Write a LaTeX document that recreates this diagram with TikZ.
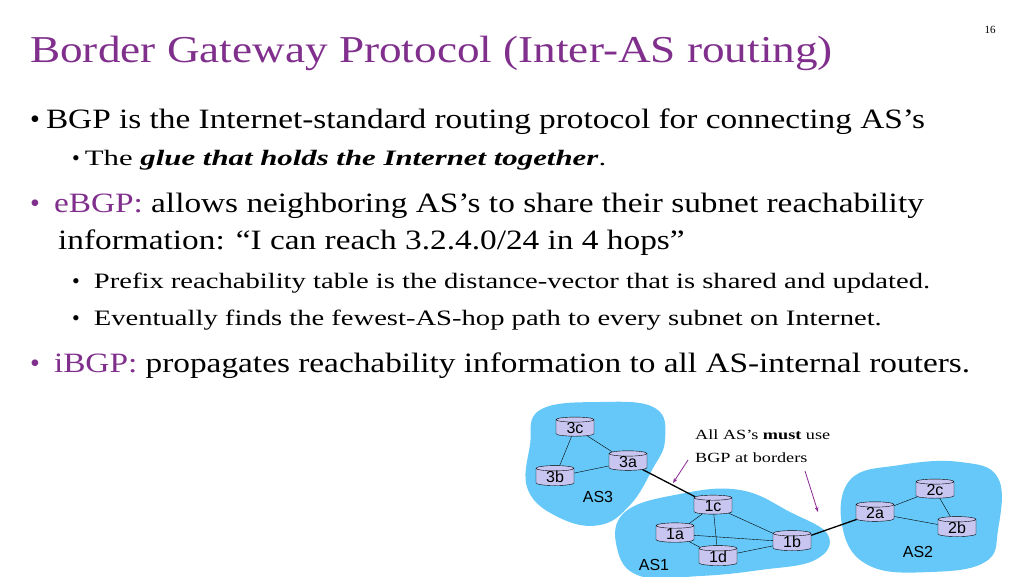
\documentclass[tikz,border=0pt]{standalone}
\usepackage{fontspec}
\usepackage{graphicx}
\setmainfont{Liberation Serif}
\setsansfont{Liberation Sans}
\usetikzlibrary{shapes.geometric,arrows.meta,positioning}
\definecolor{titlepurple}{RGB}{128,48,140}
\definecolor{asblue}{RGB}{102,200,248}
\definecolor{routerfill}{RGB}{200,198,240}
\definecolor{arrowpurple}{RGB}{140,40,150}
\newcommand{\wide}[2]{\scalebox{#1}[1]{#2}}

\begin{document}
\begin{tikzpicture}[
    x=1pt, y=-1pt,
    txt/.style={anchor=base west, inner sep=0pt},
    router/.style={cylinder, shape border rotate=90, aspect=0.3, draw, thin, fill=routerfill,
        minimum width=38pt, minimum height=18pt, inner sep=0pt, font=\sffamily\fontsize{16}{16}\selectfont},
    aslabel/.style={font=\sffamily\fontsize{16}{16}\selectfont},
    blob/.style={fill=asblue, draw=none},
    link/.style={draw, thin},
    border/.style={draw, line width=1.3pt},
    hint/.style={-{Stealth[length=5pt]}, thick, color=arrowpurple}
]
\useasboundingbox (0,0) rectangle (1024,576);
\fill[white] (0,0) rectangle (1024,576);

% title and bullets
\node[txt, font=\fontsize{38}{40}\selectfont, text=titlepurple] (title) at (30,62) {\wide{1.19}{Border Gateway Protocol (Inter-AS routing)}};
\node[font=\fontsize{11}{12}\selectfont] (page) at (990,30) {16};

\node[txt, font=\fontsize{28}{30}\selectfont] (b1) at (30,128) {\textbullet\hspace{6pt}\wide{1.19}{BGP is the Internet-standard routing protocol for connecting AS's}};
\node[txt, font=\fontsize{22}{24}\selectfont] (b1a) at (72,165) {\textbullet\hspace{5pt}\wide{1.4}{The \textbf{\textit{glue that holds the Internet together}}.}};
\node[txt, font=\fontsize{28}{30}\selectfont] (b2) at (30,212) {\textcolor{titlepurple}{\textbullet}\hspace{14pt}\wide{1.19}{\textcolor{titlepurple}{eBGP:} allows neighboring AS's to share their subnet reachability}};
\node[txt, font=\fontsize{28}{30}\selectfont] (b2l) at (58,249) {\wide{1.19}{information: ``I can reach 3.2.4.0/24 in 4 hops''}};
\node[txt, font=\fontsize{22}{24}\selectfont] (b2a) at (72,288) {\textbullet\hspace{14pt}\wide{1.3}{Prefix reachability table is the distance-vector that is shared and updated.}};
\node[txt, font=\fontsize{22}{24}\selectfont] (b2b) at (72,325) {\textbullet\hspace{14pt}\wide{1.3}{Eventually finds the fewest-AS-hop path to every subnet on Internet.}};
\node[txt, font=\fontsize{28}{30}\selectfont] (b3) at (30,372) {\textcolor{titlepurple}{\textbullet}\hspace{14pt}\wide{1.19}{\textcolor{titlepurple}{iBGP:} propagates reachability information to all AS-internal routers.}};

% autonomous systems
\path[blob] plot[smooth cycle, tension=0.7] coordinates {(540,410) (600,402) (655,408) (665,440) (652,470) (630,505) (600,525) (560,518) (528,490) (530,445)};
\path[blob] plot[smooth cycle, tension=0.7] coordinates {(625,512) (680,494) (740,490) (790,512) (828,535) (815,560) (760,570) (700,576) (640,576) (617,548)};
\path[blob] plot[smooth cycle, tension=0.7] coordinates {(850,480) (900,465) (960,462) (998,478) (998,530) (985,562) (930,572) (870,566) (843,530)};

% routers
\node[router] (r3c) at (575,428) {3c};
\node[router] (r3a) at (628,462) {3a};
\node[router] (r3b) at (555,477) {3b};
\node[router] (r1c) at (713,506) {1c};
\node[router] (r1a) at (675,534) {1a};
\node[router] (r1b) at (792,542) {1b};
\node[router] (r1d) at (718,557) {1d};
\node[router] (r2c) at (935,490) {2c};
\node[router] (r2a) at (875,513) {2a};
\node[router] (r2b) at (957,528) {2b};

\node[aslabel] (as3) at (598,497) {AS3};
\node[aslabel] (as1) at (654,565) {AS1};
\node[aslabel] (as2) at (918,552) {AS2};

% links
\path[link] (r3c) -- (r3a) (r3c) -- (r3b) (r3b) -- (r3a);
\path[link] (r1c) -- (r1a) (r1c) -- (r1d) (r1c) -- (r1b) (r1a) -- (r1b) (r1a) -- (r1d) (r1d) -- (r1b);
\path[link] (r2a) -- (r2c) (r2a) -- (r2b) (r2c) -- (r2b);
\path[border] (r3a) -- (r1c);
\path[border] (r1b) -- (r2a);

% note
\node[txt, font=\fontsize{14}{14}\selectfont] (note1) at (695,439) {\wide{1.3}{All AS's \textbf{must} use}};
\node[txt, font=\fontsize{14}{14}\selectfont] (note2) at (695,462) {\wide{1.3}{BGP at borders}};
\coordinate (h1s) at (688,460);
\coordinate (h1e) at (673,483);
\coordinate (h2s) at (805,471);
\coordinate (h2e) at (818,512);
\draw[hint] (h1s) -- (h1e);
\draw[hint] (h2s) -- (h2e);
\end{tikzpicture}
\end{document}
